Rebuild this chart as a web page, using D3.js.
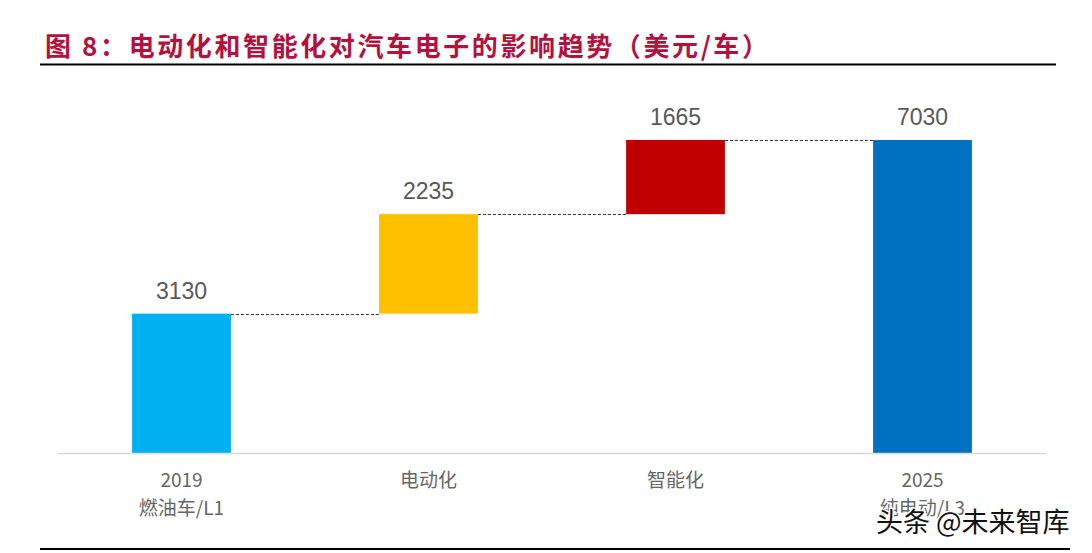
<!DOCTYPE html>
<html><head><meta charset="utf-8">
<script src="https://cdn.jsdelivr.net/npm/d3@7"></script>
<style>body{margin:0;background:#fff;}svg{display:block;}</style>
</head><body>
<svg id="c" width="1092" height="553"></svg>
<script>
const categories = ["2019\n燃油车/L1", "电动化", "智能化", "2025\n纯电动/L3"];
const values = [3130, 2235, 1665, 7030];
const kinds = ["total", "delta", "delta", "total"];
const colors = ["#00B0F0", "#FFC000", "#C00000", "#0070C0"];
const titleText = "图 8：电动化和智能化对汽车电子的影响趋势（美元/车）";

const svg = d3.select("#c");
const x = d3.scaleBand().domain(categories).range([58, 1046]).paddingInner(0.6).paddingOuter(0.3);
const y = d3.scaleLinear().domain([0, 7030]).range([453, 140]);

let cum = 0;
const bars = values.map((v, i) => {
  let lo, hi;
  if (kinds[i] === "total") { lo = 0; hi = v; cum = v; }
  else { lo = cum; hi = cum + v; cum = hi; }
  return {cat: categories[i], v, lo, hi, color: colors[i]};
});

// title
svg.append("text").attr("x", 45).attr("y", 56).text(titleText)
  .attr("font-family", "Noto Sans CJK SC").attr("font-weight", 700).attr("font-size", 26)
  .attr("letter-spacing", 2.6)
  .attr("fill", "#B3123E");
svg.append("line").attr("x1", 40).attr("x2", 1056).attr("y1", 64.5).attr("y2", 64.5)
  .attr("stroke", "#000").attr("stroke-width", 2);
svg.append("line").attr("x1", 40).attr("x2", 1070).attr("y1", 549).attr("y2", 549)
  .attr("stroke", "#000").attr("stroke-width", 2);

// bars
svg.selectAll("rect.bar").data(bars).join("rect").attr("class", "bar")
  .attr("x", d => x(d.cat)).attr("width", x.bandwidth())
  .attr("y", d => y(d.hi)).attr("height", d => y(d.lo) - y(d.hi))
  .attr("fill", d => d.color);

// connectors
for (let i = 0; i < bars.length - 1; i++) {
  const lvl = bars[i].hi;
  svg.append("line").attr("x1", x(bars[i].cat) + x.bandwidth()).attr("x2", x(bars[i+1].cat))
    .attr("y1", Math.round(y(lvl)) + 0.5).attr("y2", Math.round(y(lvl)) + 0.5)
    .attr("stroke", "#333").attr("stroke-width", 1).attr("stroke-dasharray", "3,2");
}

// baseline
svg.append("line").attr("x1", 58).attr("x2", 1046).attr("y1", 453.5).attr("y2", 453.5)
  .attr("stroke", "#D9D9D9").attr("stroke-width", 1.5);

// value labels
svg.selectAll("text.val").data(bars).join("text").attr("class", "val")
  .attr("x", d => x(d.cat) + x.bandwidth() / 2).attr("y", d => y(d.hi) - 15)
  .attr("text-anchor", "middle").attr("font-family", "Liberation Sans, Arial").attr("font-size", 23)
  .attr("fill", "#595959").text(d => d.v);

// category labels
const cl = svg.selectAll("g.cat").data(categories).join("g").attr("class", "cat")
  .attr("transform", d => `translate(${x(d) + x.bandwidth() / 2},0)`);
cl.each(function(d) {
  const lines = d.split("\n");
  const g = d3.select(this);
  lines.forEach((t, j) => {
    g.append("text").attr("x", 0).attr("y", 487 + j * 28).attr("text-anchor", "middle")
      .attr("font-family", "Noto Sans CJK SC, Liberation Sans").attr("font-size", 19)
      .attr("fill", "#666").text(t);
  });
});

// watermark
svg.append("text").attr("x", 876).attr("y", 532).text("头条 @未来智库")
  .attr("font-family", "Noto Sans CJK SC").attr("font-size", 27).attr("fill", "#111")
  .attr("stroke", "#fff").attr("stroke-width", 3).attr("paint-order", "stroke");
</script>
</body></html>
